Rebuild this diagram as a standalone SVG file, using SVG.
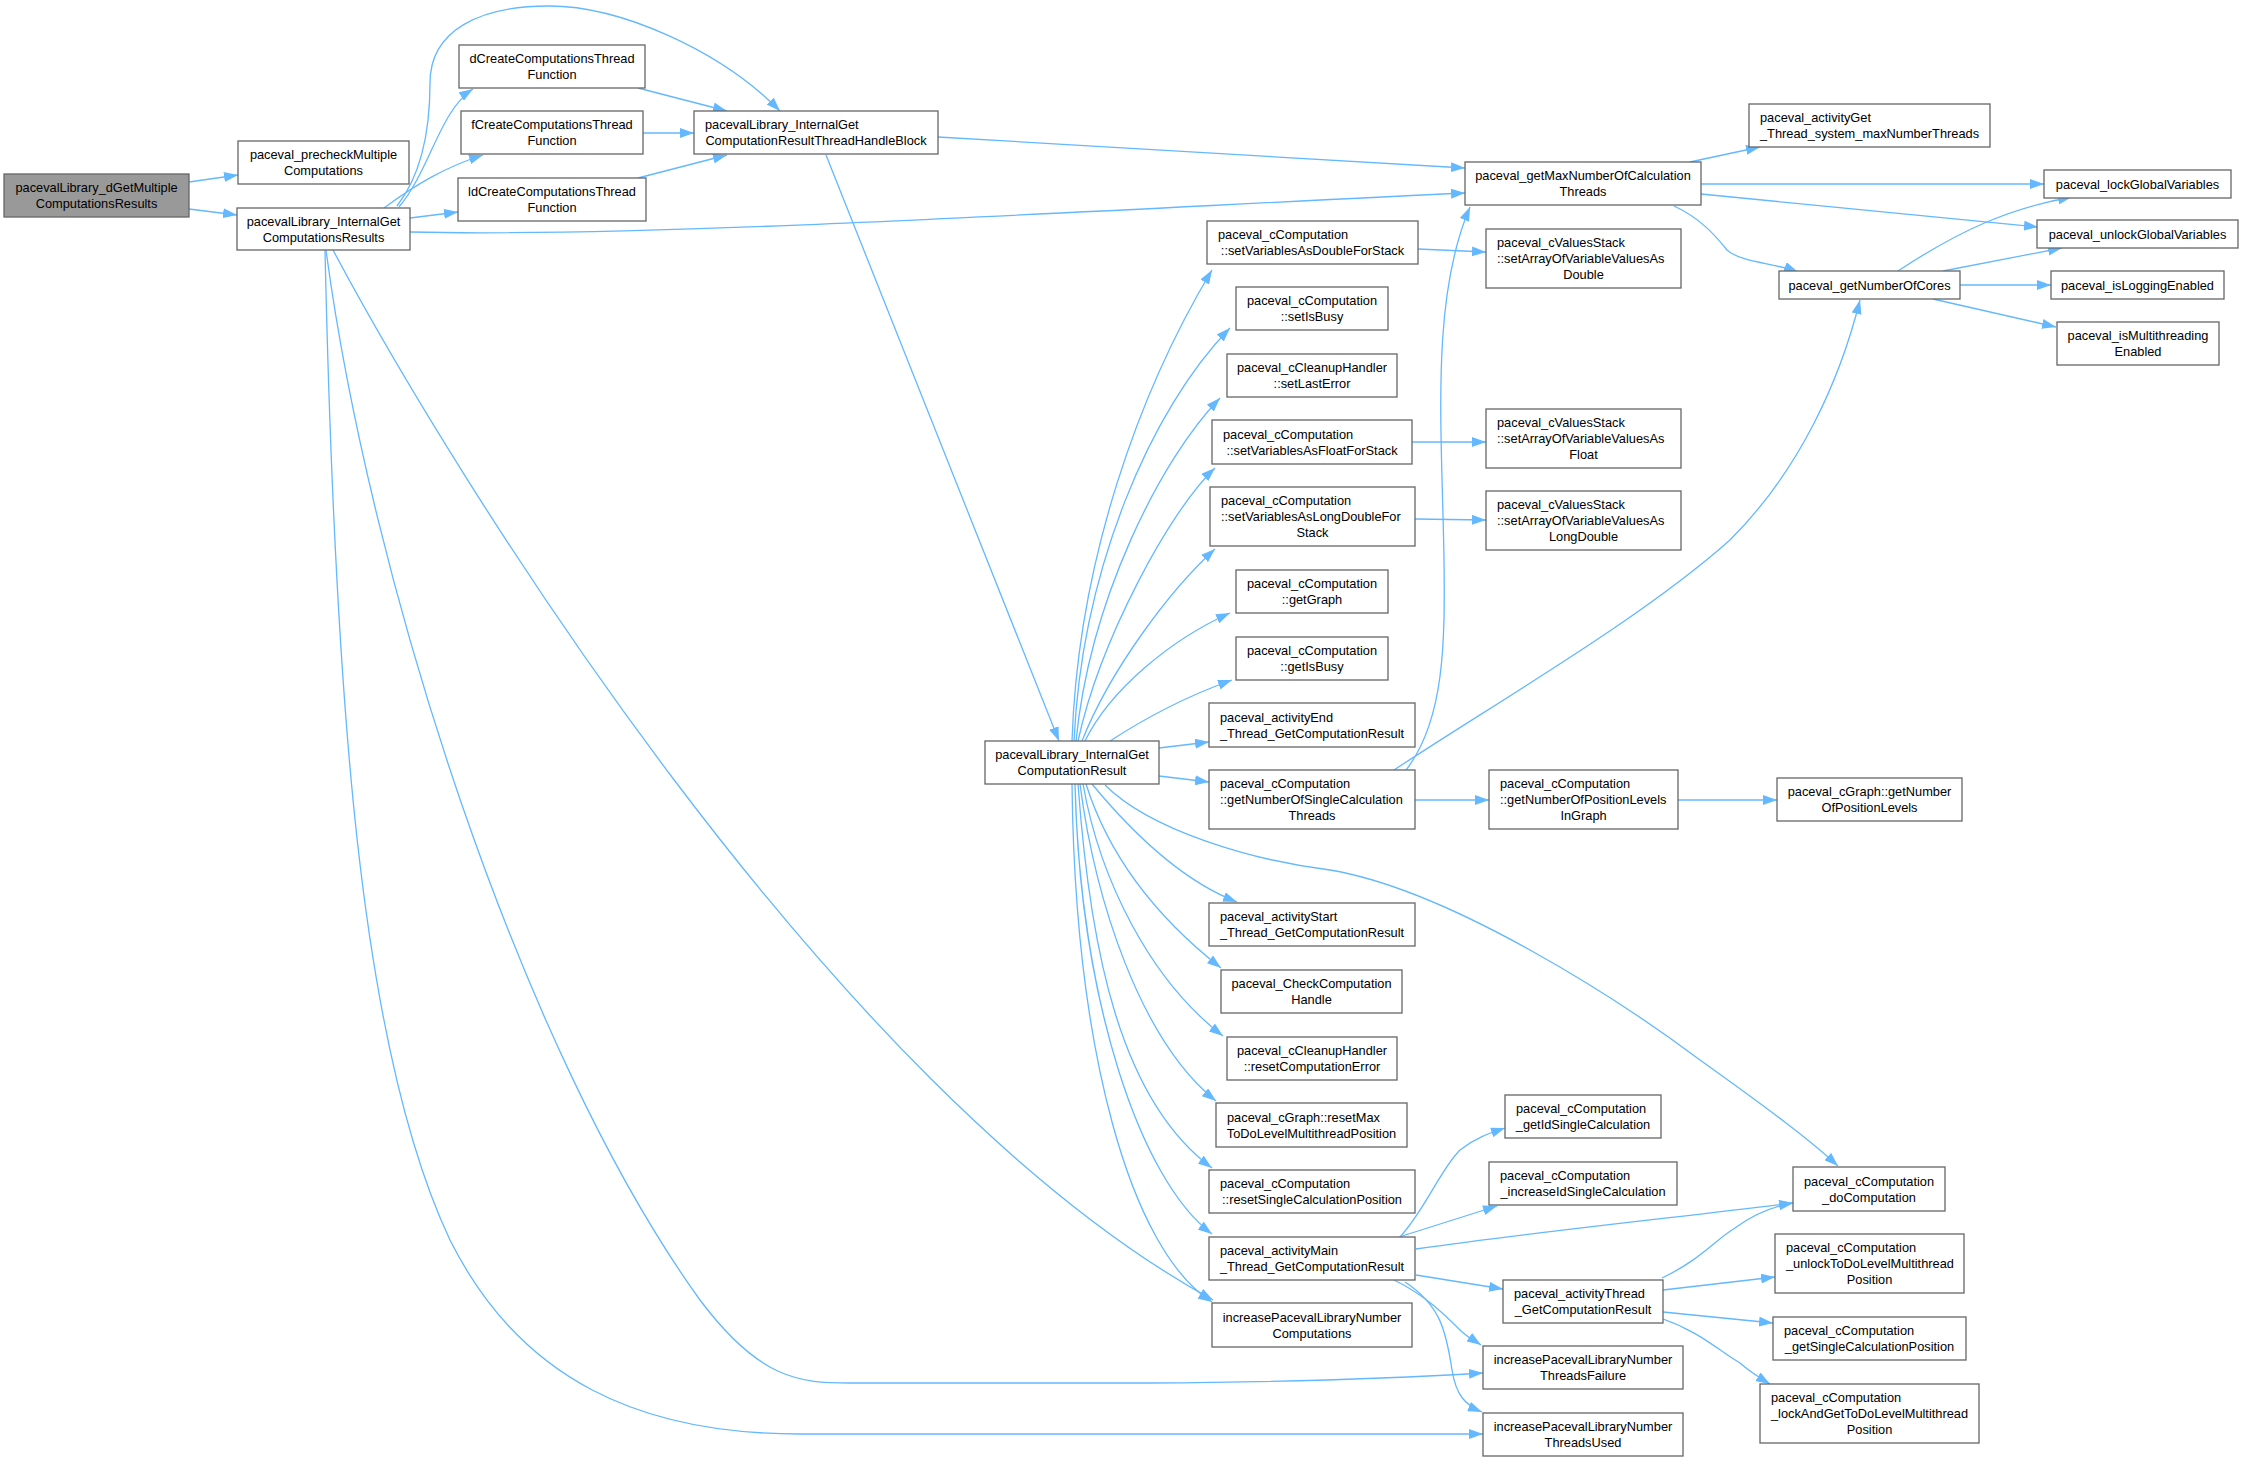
<svg xmlns="http://www.w3.org/2000/svg" width="2244" height="1461" viewBox="0 0 2244 1461">
<style>
.n rect{fill:#fff;stroke:#666;stroke-width:1.3}
.n.root rect{fill:#999}
text{font-family:"Liberation Sans",Arial,Helvetica,sans-serif;font-size:12.8px;fill:#000}
.c{text-anchor:middle}
.e path{fill:none;stroke:#63b8ff;stroke-width:1.3}
</style>
<defs>
<marker id="ah" markerWidth="14" markerHeight="10" refX="14" refY="5" orient="auto" markerUnits="userSpaceOnUse"><path d="M0,0 L14,5 L0,10 z" fill="#63b8ff" stroke="none"/></marker>
</defs>
<rect width="2244" height="1461" fill="#fff"/>
<g id="connectors" class="e" marker-end="url(#ah)">
<path marker-end="url(#ah)" d="M189,182 L238,175"/>
<path marker-end="url(#ah)" d="M189,209 L237,215"/>
<path marker-end="url(#ah)" d="M399,207 C430,170 440,110 473,89"/>
<path marker-end="url(#ah)" d="M384,208 C415,185 445,167 483,155"/>
<path marker-end="url(#ah)" d="M410,218 L458,212"/>
<path marker-end="url(#ah)" d="M397,206 C425,170 430,120 430,83 C430,30 480,6 549,6 C620,6 720,50 780,111"/>
<path marker-end="url(#ah)" d="M638,88 L727,111"/>
<path marker-end="url(#ah)" d="M643,133 L694,133"/>
<path marker-end="url(#ah)" d="M638,178 L727,155"/>
<path marker-end="url(#ah)" d="M410,232 C650,238 1100,210 1465,193"/>
<path marker-end="url(#ah)" d="M938,137 L1465,168"/>
<path marker-end="url(#ah)" d="M826,155 L1059,741"/>
<path marker-end="url(#ah)" d="M333,250 C450,470 830,1090 1213,1300"/>
<path marker-end="url(#ah)" d="M326,250 C370,580 520,1050 700,1300 C760,1380 800,1383 850,1383 L1150,1383 C1300,1382 1400,1378 1483,1373"/>
<path marker-end="url(#ah)" d="M325,250 C335,700 360,1050 450,1240 C520,1380 640,1434 800,1434 L1483,1434"/>
<path marker-end="url(#ah)" d="M1690,162 L1760,147"/>
<path marker-end="url(#ah)" d="M1701,184 L2044,184"/>
<path marker-end="url(#ah)" d="M1701,194 L2038,227"/>
<path marker-end="url(#ah)" d="M1674,206 C1700,218 1715,235 1727,250 C1740,262 1775,263 1798,272"/>
<path marker-end="url(#ah)" d="M1898,271 C1960,230 2010,208 2072,197"/>
<path marker-end="url(#ah)" d="M1943,271 L2062,248"/>
<path marker-end="url(#ah)" d="M1960,285 L2051,285"/>
<path marker-end="url(#ah)" d="M1933,299 L2056,327"/>
<path marker-end="url(#ah)" d="M1418,249 L1486,252"/>
<path marker-end="url(#ah)" d="M1412,442 L1486,442"/>
<path marker-end="url(#ah)" d="M1415,519 L1486,520"/>
<path marker-end="url(#ah)" d="M1415,800 L1489,800"/>
<path marker-end="url(#ah)" d="M1678,800 L1777,800"/>
<path marker-end="url(#ah)" d="M1406,770 C1445,720 1445,640 1444,560 C1442,430 1430,300 1470,207"/>
<path marker-end="url(#ah)" d="M1394,770 C1500,700 1640,620 1730,540 C1800,470 1840,380 1860,300"/>
<path marker-end="url(#ah)" d="M1072,741 C1078,560 1140,390 1212,270"/>
<path marker-end="url(#ah)" d="M1074,741 C1082,570 1150,410 1230,328"/>
<path marker-end="url(#ah)" d="M1076,741 C1090,600 1160,460 1220,398"/>
<path marker-end="url(#ah)" d="M1078,741 C1100,640 1170,510 1215,468"/>
<path marker-end="url(#ah)" d="M1082,741 C1110,670 1170,590 1215,549"/>
<path marker-end="url(#ah)" d="M1085,741 C1110,690 1170,640 1230,613"/>
<path marker-end="url(#ah)" d="M1110,741 C1150,715 1190,695 1232,680"/>
<path marker-end="url(#ah)" d="M1159,748 L1209,742"/>
<path marker-end="url(#ah)" d="M1159,776 L1209,782"/>
<path marker-end="url(#ah)" d="M1092,784 C1130,830 1180,880 1237,902"/>
<path marker-end="url(#ah)" d="M1086,784 C1110,860 1160,920 1221,968"/>
<path marker-end="url(#ah)" d="M1083,784 C1100,880 1150,980 1223,1036"/>
<path marker-end="url(#ah)" d="M1080,784 C1095,900 1140,1040 1216,1101"/>
<path marker-end="url(#ah)" d="M1078,784 C1090,950 1120,1100 1212,1168"/>
<path marker-end="url(#ah)" d="M1075,784 C1080,1000 1140,1180 1212,1234"/>
<path marker-end="url(#ah)" d="M1072,784 C1075,1050 1130,1250 1212,1302"/>
<path marker-end="url(#ah)" d="M1105,785 C1150,830 1250,860 1330,870 C1450,890 1620,1000 1700,1060 C1770,1110 1810,1140 1838,1166"/>
<path marker-end="url(#ah)" d="M1400,1237 C1425,1210 1440,1170 1460,1150 C1475,1138 1490,1133 1505,1128"/>
<path marker-end="url(#ah)" d="M1399,1237 L1497,1206"/>
<path marker-end="url(#ah)" d="M1416,1249 C1550,1230 1700,1215 1793,1203"/>
<path marker-end="url(#ah)" d="M1416,1275 L1503,1289"/>
<path marker-end="url(#ah)" d="M1394,1280 C1425,1295 1445,1315 1460,1330 C1467,1337 1475,1341 1481,1345"/>
<path marker-end="url(#ah)" d="M1405,1282 C1440,1305 1446,1330 1452,1370 C1456,1395 1465,1405 1482,1412"/>
<path marker-end="url(#ah)" d="M1662,1278 C1700,1260 1715,1240 1735,1228 C1755,1213 1775,1206 1793,1203"/>
<path marker-end="url(#ah)" d="M1663,1290 L1775,1277"/>
<path marker-end="url(#ah)" d="M1663,1312 L1773,1323"/>
<path marker-end="url(#ah)" d="M1663,1319 C1700,1332 1718,1350 1740,1363 C1750,1372 1760,1378 1770,1384"/>
</g>
<g id="A" class="n root"><rect x="4" y="174" width="185" height="43"/><text class="c" x="96.5" y="192">pacevalLibrary_dGetMultiple</text><text class="c" x="96.5" y="208">ComputationsResults</text></g>
<g id="B" class="n"><rect x="238" y="141" width="171" height="43"/><text class="c" x="323.5" y="159">paceval_precheckMultiple</text><text class="c" x="323.5" y="175">Computations</text></g>
<g id="C" class="n"><rect x="237" y="208" width="173" height="42"/><text class="c" x="323.5" y="225.5">pacevalLibrary_InternalGet</text><text class="c" x="323.5" y="241.5">ComputationsResults</text></g>
<g id="D" class="n"><rect x="459" y="45" width="186" height="43"/><text class="c" x="552" y="63">dCreateComputationsThread</text><text class="c" x="552" y="79">Function</text></g>
<g id="E" class="n"><rect x="461" y="111" width="182" height="43"/><text class="c" x="552" y="129">fCreateComputationsThread</text><text class="c" x="552" y="145">Function</text></g>
<g id="F" class="n"><rect x="458" y="178" width="188" height="43"/><text class="c" x="552" y="196">ldCreateComputationsThread</text><text class="c" x="552" y="212">Function</text></g>
<g id="G" class="n"><rect x="694" y="111" width="244" height="43"/><text x="705" y="129">pacevalLibrary_InternalGet</text><text class="c" x="816" y="145">ComputationResultThreadHandleBlock</text></g>
<g id="H" class="n"><rect x="1465" y="162" width="236" height="43"/><text class="c" x="1583" y="180">paceval_getMaxNumberOfCalculation</text><text class="c" x="1583" y="196">Threads</text></g>
<g id="I" class="n"><rect x="1749" y="104" width="241" height="43"/><text x="1760" y="122">paceval_activityGet</text><text class="c" x="1869.5" y="138">_Thread_system_maxNumberThreads</text></g>
<g id="J" class="n"><rect x="2044" y="170" width="187" height="28"/><text class="c" x="2137.5" y="188.5">paceval_lockGlobalVariables</text></g>
<g id="K" class="n"><rect x="2037" y="220" width="201" height="28"/><text class="c" x="2137.5" y="238.5">paceval_unlockGlobalVariables</text></g>
<g id="L" class="n"><rect x="1779" y="271" width="181" height="28"/><text class="c" x="1869.5" y="289.5">paceval_getNumberOfCores</text></g>
<g id="M" class="n"><rect x="2051" y="271" width="173" height="28"/><text class="c" x="2137.5" y="289.5">paceval_isLoggingEnabled</text></g>
<g id="N" class="n"><rect x="2057" y="322" width="162" height="43"/><text class="c" x="2138" y="340">paceval_isMultithreading</text><text class="c" x="2138" y="356">Enabled</text></g>
<g id="O" class="n"><rect x="1207" y="221" width="211" height="43"/><text x="1218" y="239">paceval_cComputation</text><text class="c" x="1312.5" y="255">::setVariablesAsDoubleForStack</text></g>
<g id="P" class="n"><rect x="1486" y="229" width="195" height="59"/><text x="1497" y="247">paceval_cValuesStack</text><text x="1497" y="263">::setArrayOfVariableValuesAs</text><text class="c" x="1583.5" y="279">Double</text></g>
<g id="Q" class="n"><rect x="1236" y="287" width="152" height="43"/><text class="c" x="1312" y="305">paceval_cComputation</text><text class="c" x="1312" y="321">::setIsBusy</text></g>
<g id="R" class="n"><rect x="1227" y="354" width="170" height="43"/><text class="c" x="1312" y="372">paceval_cCleanupHandler</text><text class="c" x="1312" y="388">::setLastError</text></g>
<g id="S" class="n"><rect x="1212" y="420" width="200" height="44"/><text x="1223" y="438.5">paceval_cComputation</text><text class="c" x="1312" y="454.5">::setVariablesAsFloatForStack</text></g>
<g id="T" class="n"><rect x="1486" y="409" width="195" height="59"/><text x="1497" y="427">paceval_cValuesStack</text><text x="1497" y="443">::setArrayOfVariableValuesAs</text><text class="c" x="1583.5" y="459">Float</text></g>
<g id="U" class="n"><rect x="1210" y="487" width="205" height="59"/><text x="1221" y="505">paceval_cComputation</text><text x="1221" y="521">::setVariablesAsLongDoubleFor</text><text class="c" x="1312.5" y="537">Stack</text></g>
<g id="V" class="n"><rect x="1486" y="491" width="195" height="59"/><text x="1497" y="509">paceval_cValuesStack</text><text x="1497" y="525">::setArrayOfVariableValuesAs</text><text class="c" x="1583.5" y="541">LongDouble</text></g>
<g id="W" class="n"><rect x="1236" y="570" width="152" height="43"/><text class="c" x="1312" y="588">paceval_cComputation</text><text class="c" x="1312" y="604">::getGraph</text></g>
<g id="X" class="n"><rect x="1236" y="637" width="152" height="43"/><text class="c" x="1312" y="655">paceval_cComputation</text><text class="c" x="1312" y="671">::getIsBusy</text></g>
<g id="Y" class="n"><rect x="1209" y="703" width="206" height="44"/><text x="1220" y="721.5">paceval_activityEnd</text><text class="c" x="1312" y="737.5">_Thread_GetComputationResult</text></g>
<g id="Z" class="n"><rect x="985" y="741" width="174" height="43"/><text class="c" x="1072" y="759">pacevalLibrary_InternalGet</text><text class="c" x="1072" y="775">ComputationResult</text></g>
<g id="AA" class="n"><rect x="1209" y="770" width="206" height="59"/><text x="1220" y="788">paceval_cComputation</text><text x="1220" y="804">::getNumberOfSingleCalculation</text><text class="c" x="1312" y="820">Threads</text></g>
<g id="AB" class="n"><rect x="1489" y="770" width="189" height="59"/><text x="1500" y="788">paceval_cComputation</text><text x="1500" y="804">::getNumberOfPositionLevels</text><text class="c" x="1583.5" y="820">InGraph</text></g>
<g id="AC" class="n"><rect x="1777" y="778" width="185" height="43"/><text class="c" x="1869.5" y="796">paceval_cGraph::getNumber</text><text class="c" x="1869.5" y="812">OfPositionLevels</text></g>
<g id="AD" class="n"><rect x="1209" y="903" width="206" height="43"/><text x="1220" y="921">paceval_activityStart</text><text class="c" x="1312" y="937">_Thread_GetComputationResult</text></g>
<g id="AE" class="n"><rect x="1221" y="970" width="181" height="43"/><text class="c" x="1311.5" y="988">paceval_CheckComputation</text><text class="c" x="1311.5" y="1004">Handle</text></g>
<g id="AF" class="n"><rect x="1227" y="1037" width="170" height="43"/><text class="c" x="1312" y="1055">paceval_cCleanupHandler</text><text class="c" x="1312" y="1071">::resetComputationError</text></g>
<g id="AG" class="n"><rect x="1216" y="1103" width="191" height="44"/><text x="1227" y="1121.5">paceval_cGraph::resetMax</text><text class="c" x="1311.5" y="1137.5">ToDoLevelMultithreadPosition</text></g>
<g id="AH" class="n"><rect x="1209" y="1170" width="206" height="43"/><text x="1220" y="1188">paceval_cComputation</text><text class="c" x="1312" y="1204">::resetSingleCalculationPosition</text></g>
<g id="AI" class="n"><rect x="1209" y="1237" width="206" height="43"/><text x="1220" y="1255">paceval_activityMain</text><text class="c" x="1312" y="1271">_Thread_GetComputationResult</text></g>
<g id="AJ" class="n"><rect x="1212" y="1303" width="200" height="44"/><text class="c" x="1312" y="1321.5">increasePacevalLibraryNumber</text><text class="c" x="1312" y="1337.5">Computations</text></g>
<g id="AK" class="n"><rect x="1505" y="1095" width="156" height="43"/><text x="1516" y="1113">paceval_cComputation</text><text class="c" x="1583" y="1129">_getIdSingleCalculation</text></g>
<g id="AL" class="n"><rect x="1489" y="1162" width="188" height="43"/><text x="1500" y="1180">paceval_cComputation</text><text class="c" x="1583" y="1196">_increaseIdSingleCalculation</text></g>
<g id="AM" class="n"><rect x="1793" y="1167" width="152" height="44"/><text class="c" x="1869" y="1185.5">paceval_cComputation</text><text class="c" x="1869" y="1201.5">_doComputation</text></g>
<g id="AN" class="n"><rect x="1503" y="1280" width="160" height="43"/><text x="1514" y="1298">paceval_activityThread</text><text class="c" x="1583" y="1314">_GetComputationResult</text></g>
<g id="AO" class="n"><rect x="1775" y="1234" width="189" height="59"/><text x="1786" y="1252">paceval_cComputation</text><text x="1786" y="1268">_unlockToDoLevelMultithread</text><text class="c" x="1869.5" y="1284">Position</text></g>
<g id="AP" class="n"><rect x="1773" y="1317" width="193" height="43"/><text x="1784" y="1335">paceval_cComputation</text><text class="c" x="1869.5" y="1351">_getSingleCalculationPosition</text></g>
<g id="AQ" class="n"><rect x="1760" y="1384" width="219" height="59"/><text x="1771" y="1402">paceval_cComputation</text><text x="1771" y="1418">_lockAndGetToDoLevelMultithread</text><text class="c" x="1869.5" y="1434">Position</text></g>
<g id="AR" class="n"><rect x="1483" y="1346" width="200" height="43"/><text class="c" x="1583" y="1364">increasePacevalLibraryNumber</text><text class="c" x="1583" y="1380">ThreadsFailure</text></g>
<g id="AS" class="n"><rect x="1483" y="1413" width="200" height="43"/><text class="c" x="1583" y="1431">increasePacevalLibraryNumber</text><text class="c" x="1583" y="1447">ThreadsUsed</text></g>
</svg>
